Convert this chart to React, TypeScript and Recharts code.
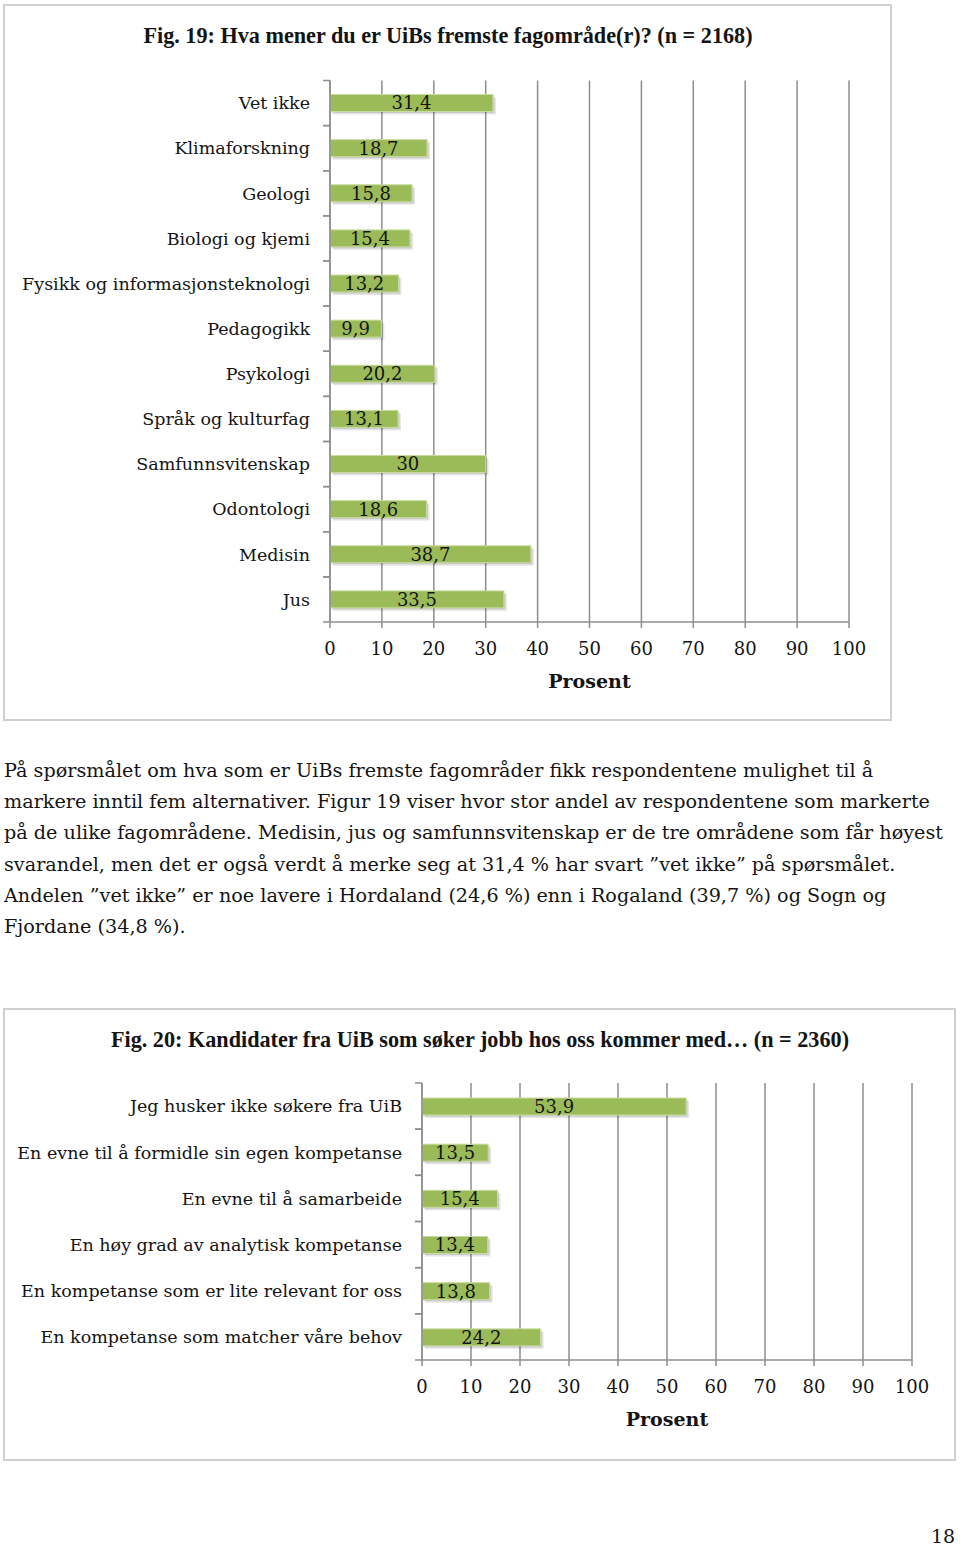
import React from "react"
import { BarChart, Bar, XAxis, YAxis, CartesianGrid, LabelList } from "recharts"

const fig19Categories = [
  "Vet ikke",
  "Klimaforskning",
  "Geologi",
  "Biologi og kjemi",
  "Fysikk og informasjonsteknologi",
  "Pedagogikk",
  "Psykologi",
  "Språk og kulturfag",
  "Samfunnsvitenskap",
  "Odontologi",
  "Medisin",
  "Jus",
]
const fig19Values = [31.4, 18.7, 15.8, 15.4, 13.2, 9.9, 20.2, 13.1, 30, 18.6, 38.7, 33.5]

const fig20Categories = [
  "Jeg husker ikke søkere fra UiB",
  "En evne til å formidle sin egen kompetanse",
  "En evne til å samarbeide",
  "En høy grad av analytisk kompetanse",
  "En kompetanse som er lite relevant for oss",
  "En kompetanse som matcher våre behov",
]
const fig20Values = [53.9, 13.5, 15.4, 13.4, 13.8, 24.2]

const percentTicks = [0, 10, 20, 30, 40, 50, 60, 70, 80, 90, 100]

const paragraphLines = [
  "På spørsmålet om hva som er UiBs fremste fagområder fikk respondentene mulighet til å",
  "markere inntil fem alternativer. Figur 19 viser hvor stor andel av respondentene som markerte",
  "på de ulike fagområdene. Medisin, jus og samfunnsvitenskap er de tre områdene som får høyest",
  "svarandel, men det er også verdt å merke seg at 31,4 % har svart ”vet ikke” på spørsmålet.",
  "Andelen ”vet ikke” er noe lavere i Hordaland (24,6 %) enn i Rogaland (39,7 %) og Sogn og",
  "Fjordane (34,8 %).",
]

const FONT = "'DejaVu Serif', serif"
const GREEN = "#9bbb59"
const GRID = "#8e8e8e"
const TEXT = "#141414"

const fmt = (v: any) => String(v).replace(".", ",")

function BarShape(props: any) {
  const { x, y, width, height } = props
  if (!width || width <= 0) return null
  return (
    <g>
      <rect x={x + 3} y={y + 3} width={width} height={height} fill="#000" opacity={0.1} />
      <rect x={x + 1.5} y={y + 1.5} width={width} height={height} fill="#000" opacity={0.12} />
      <rect x={x} y={y} width={width} height={height} fill={GREEN} stroke="#c9dca0" strokeWidth={1} />
    </g>
  )
}

function renderCategoryTick(props: any, band: number, gap: number) {
  const { x, y, payload } = props
  return (
    <g>
      <line x1={x - 7} x2={x} y1={y - band / 2} y2={y - band / 2} stroke={GRID} strokeWidth={1.5} />
      <line x1={x - 7} x2={x} y1={y + band / 2} y2={y + band / 2} stroke={GRID} strokeWidth={1.5} />
      <text x={x - gap} y={y} dy="0.36em" textAnchor="end" fill={TEXT} fontSize={17.5} fontFamily={FONT}>
        {payload.value}
      </text>
    </g>
  )
}

type ChartProps = {
  title: string
  categories: string[]
  values: number[]
  left: number
  top: number
  width: number
  height: number
  axisWidth: number
  marginTop: number
  marginRight: number
  marginBottom: number
  titleTop: number
  titleCenter: number
}

function PercentChart(p: ChartProps) {
  const data = p.categories.map((name, i) => ({ name, value: p.values[i] }))
  const plotHeight = p.height - p.marginTop - p.marginBottom - 70
  const band = plotHeight / data.length
  return (
    <>
      <div
        style={{
          position: "absolute",
          left: p.left,
          top: p.top,
          width: p.width,
          height: p.height,
          boxSizing: "border-box",
          border: "2px solid #cfcfcf",
        }}
      />
      <div
        style={{
          position: "absolute",
          left: p.left,
          top: p.titleTop,
          width: p.titleCenter * 2,
          textAlign: "center",
          fontFamily: "'Liberation Serif', serif",
          fontWeight: "bold",
          fontSize: 22.2,
          color: TEXT,
          whiteSpace: "nowrap",
        }}
      >
        {p.title}
      </div>
      <div style={{ position: "absolute", left: p.left, top: p.top }}>
        <BarChart
          width={p.width}
          height={p.height}
          data={data}
          layout="vertical"
          margin={{ top: p.marginTop, right: p.marginRight, bottom: p.marginBottom, left: 0 }}
        >
          <CartesianGrid horizontal={false} stroke={GRID} strokeWidth={1.5} />
          <XAxis
            type="number"
            domain={[0, 100]}
            ticks={percentTicks}
            interval={0}
            height={70}
            tickSize={6}
            tickMargin={14}
            axisLine={{ stroke: GRID, strokeWidth: 1.5 }}
            tickLine={{ stroke: GRID, strokeWidth: 1.5 }}
            tick={{ fill: TEXT, fontSize: 18, fontFamily: FONT }}
            label={{
              value: "Prosent",
              position: "insideBottom",
              offset: 4,
              fill: TEXT,
              fontSize: 19,
              fontWeight: "bold",
              fontFamily: FONT,
            }}
          />
          <YAxis
            type="category"
            dataKey="name"
            width={p.axisWidth}
            tickSize={0}
            tickMargin={0}
            tickLine={false}
            interval={0}
            axisLine={{ stroke: GRID, strokeWidth: 1.5 }}
            tick={(t: any) => renderCategoryTick(t, band, 20)}
          />
          <Bar dataKey="value" barSize={17} isAnimationActive={false} shape={BarShape}>
            <LabelList
              dataKey="value"
              position="center"
              formatter={fmt}
              fill={TEXT}
              fontSize={18}
              fontFamily={FONT}
            />
          </Bar>
        </BarChart>
      </div>
    </>
  )
}

export default function App() {
  return (
    <div
      style={{
        position: "absolute",
        left: 0,
        top: 0,
        width: 960,
        height: 1545,
        background: "#fff",
        fontFamily: FONT,
        color: TEXT,
      }}
    >
      <PercentChart
        title="Fig. 19: Hva mener du er UiBs fremste fagområde(r)? (n = 2168)"
        categories={fig19Categories}
        values={fig19Values}
        left={3}
        top={4}
        width={889}
        height={717}
        axisWidth={327}
        marginTop={76.5}
        marginRight={43}
        marginBottom={29}
        titleTop={23}
        titleCenter={445}
      />
      <div style={{ position: "absolute", left: 4, top: 755, fontSize: 19.2, lineHeight: "31.2px" }}>
        {paragraphLines.map((line, i) => (
          <div key={i} style={{ whiteSpace: "nowrap" }}>
            {line}
          </div>
        ))}
      </div>
      <PercentChart
        title="Fig. 20: Kandidater fra UiB som søker jobb hos oss kommer med… (n = 2360)"
        categories={fig20Categories}
        values={fig20Values}
        left={3}
        top={1008}
        width={953}
        height={453}
        axisWidth={419}
        marginTop={75}
        marginRight={44}
        marginBottom={31}
        titleTop={1027}
        titleCenter={477}
      />
      <div style={{ position: "absolute", left: 931, top: 1525, fontSize: 19 }}>18</div>
    </div>
  )
}
